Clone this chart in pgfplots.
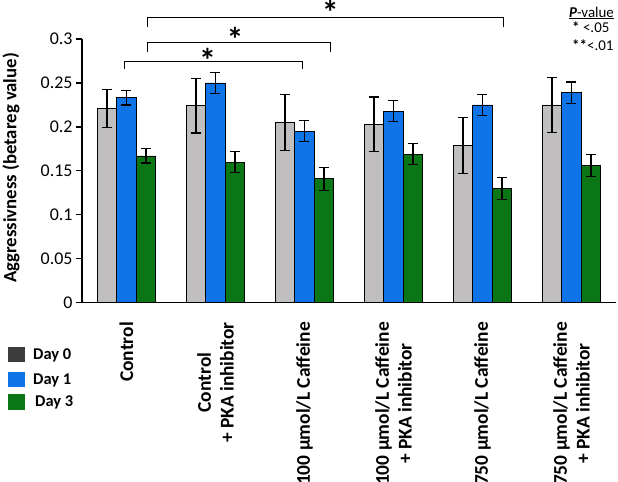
\documentclass[border=0pt]{standalone}
\usepackage{pgfplots}
\pgfplotsset{compat=1.18}
\usepackage{pgfplotstable}
\usepackage{fontspec}
\setmainfont{Carlito}
\definecolor{cgray}{RGB}{192,190,190}
\definecolor{cdark}{RGB}{60,60,60}
\definecolor{cblue}{RGB}{14,116,232}
\definecolor{cgreen}{RGB}{10,118,22}
\pgfplotstableread{
x y e
0 0.221 0.022
1 0.224 0.031
2 0.205 0.032
3 0.203 0.031
4 0.179 0.032
5 0.225 0.031
}\dayzero
\pgfplotstableread{
x y e
0 0.233 0.008
1 0.250 0.012
2 0.195 0.012
3 0.218 0.012
4 0.225 0.012
5 0.239 0.012
}\dayone
\pgfplotstableread{
x y e
0 0.167 0.008
1 0.160 0.012
2 0.141 0.013
3 0.169 0.012
4 0.130 0.0125
5 0.156 0.0125
}\daythree
\begin{document}
\begin{tikzpicture}
\useasboundingbox (-82bp,-179.3bp) rectangle (536bp,302.7bp);
\begin{axis}[
  scale only axis,
  width=534bp, height=263.7bp,
  xmin=-0.5, xmax=5.5, ymin=0, ymax=0.3,
  axis x line*=bottom, axis y line*=left,
  axis line style={line width=1.3pt, black},
  ybar=0pt, bar width=19.5bp,
  clip=false,
  tick align=outside,
  ytick={0,0.05,0.1,0.15,0.2,0.25,0.3},
  yticklabels={0,0.05,0.1,0.15,0.2,0.25,0.3},
  yticklabel style={font=\fontsize{18}{20}\selectfont},
  major tick length=6bp,
  xtick={0,1,2,3,4,5},
  x tick style={draw=none},
  minor xtick={-0.5,0.5,1.5,2.5,3.5,4.5,5.5},
  minor x tick style={line width=1.3pt, black},
  minor tick length=6bp,
  y tick style={line width=1.3pt, black},
  xticklabels={Control, Control\\+ PKA inhibitor, 100 µmol/L Caffeine, 100 µmol/L Caffeine\\+ PKA inhibitor, 750 µmol/L Caffeine, 750 µmol/L Caffeine\\+ PKA inhibitor},
  xticklabel style={rotate=90, anchor=east, align=center, font=\bfseries\fontsize{19.5}{23}\selectfont},
  xticklabel shift=10bp,
  ylabel={Aggressivness (betareg value)},
  ylabel style={at={(axis description cs:-0.133,0.511)}, anchor=center, font=\bfseries\fontsize{18.8}{20}\selectfont},
  error bars/error bar style={line width=1.2pt, black},
  error bars/error mark options={line width=1.2pt, black, mark size=5bp, rotate=90},
]
\addplot[fill=cgray, draw=black, line width=0.8pt, error bars/.cd, y dir=both, y explicit] table[x=x, y=y, y error=e]{\dayzero};
\addplot[fill=cblue, draw=black, line width=0.8pt, error bars/.cd, y dir=both, y explicit] table[x=x, y=y, y error=e]{\dayone};
\addplot[fill=cgreen, draw=black, line width=0.8pt, error bars/.cd, y dir=both, y explicit] table[x=x, y=y, y error=e]{\daythree};
% significance brackets
\draw[line width=0.8pt] (axis cs:-0.02,0.266) -- (axis cs:-0.02,0.275) -- (axis cs:1.98,0.275) -- (axis cs:1.98,0.266);
\draw[line width=0.8pt] (axis cs:0.23,0.285) -- (axis cs:0.23,0.296) -- (axis cs:2.29,0.296) -- (axis cs:2.29,0.285);
\draw[line width=0.8pt] (axis cs:0.23,0.3137) -- (axis cs:0.23,0.325) -- (axis cs:4.23,0.325) -- (axis cs:4.23,0.3137);
\node[anchor=base, font=\bfseries\fontsize{34}{34}\selectfont, inner sep=0pt] at (axis cs:0.91,0.2618) {*};
\node[anchor=base, font=\bfseries\fontsize{34}{34}\selectfont, inner sep=0pt] at (axis cs:1.22,0.2863) {*};
\node[anchor=base, font=\bfseries\fontsize{34}{34}\selectfont, inner sep=0pt] at (axis cs:2.29,0.3164) {*};
% p-value key
\node[anchor=base west, font=\fontsize{15}{17}\selectfont, inner sep=0pt] at (axis cs:4.97,0.325) {\underline{\textbf{\textit{P}}-value}};
\node[anchor=base west, font=\fontsize{15}{17}\selectfont, inner sep=0pt] at (axis cs:5.006,0.307) {\textbf{*} <.05};
\node[anchor=base west, font=\fontsize{15}{17}\selectfont, inner sep=0pt] at (axis cs:5.006,0.2864) {\textbf{**}<.01};
\end{axis}
% legend
\fill[cdark] (-74bp,-44.3bp) rectangle (-57bp,-59.3bp);
\fill[cblue] (-74bp,-69.3bp) rectangle (-57bp,-84.3bp);
\fill[cgreen] (-74bp,-91.3bp) rectangle (-57bp,-107.3bp);
\node[anchor=west, inner sep=0pt, font=\bfseries\fontsize{16.5}{18}\selectfont] at (-49bp,-52.3bp) {Day 0};
\node[anchor=west, inner sep=0pt, font=\bfseries\fontsize{16.5}{18}\selectfont] at (-49bp,-77.3bp) {Day 1};
\node[anchor=west, inner sep=0pt, font=\bfseries\fontsize{16.5}{18}\selectfont] at (-47bp,-99.3bp) {Day 3};
\end{tikzpicture}
\end{document}
